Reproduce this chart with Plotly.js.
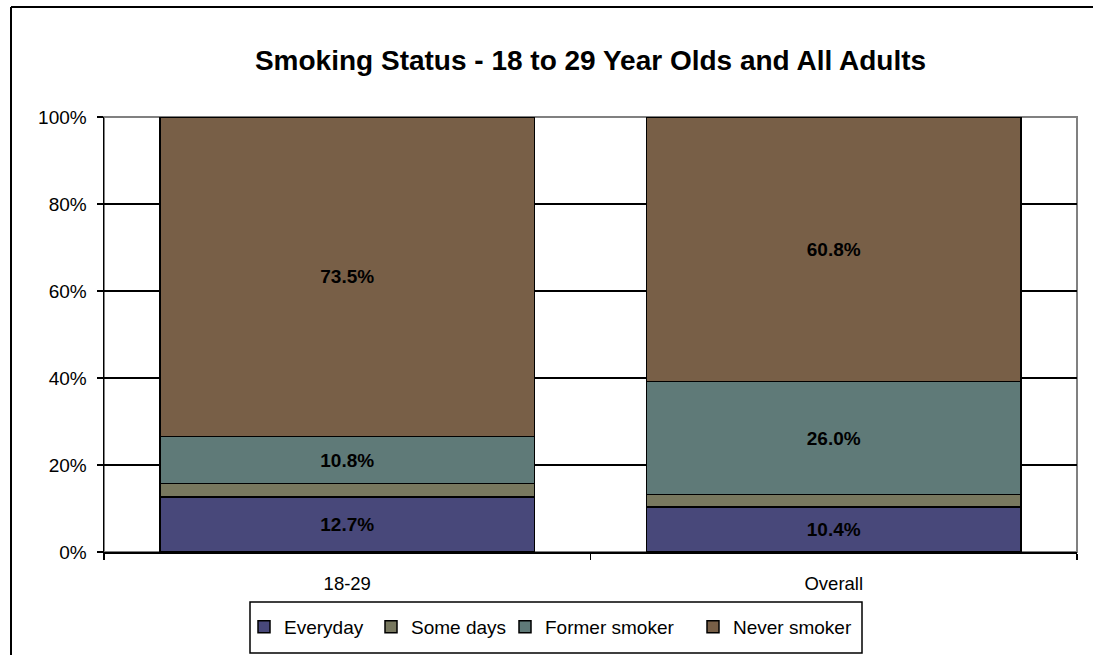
<!DOCTYPE html>
<html>
<head>
<meta charset="utf-8">
<script src="https://cdn.plot.ly/plotly-3.0.1.min.js"></script>
<style>
  html, body { margin: 0; padding: 0; background: #fff; overflow: hidden; }
  #chart { width: 1093px; height: 655px; }
</style>
</head>
<body>
<div id="chart"></div>
<script>
// Smoking status shares (percent of respondents)
const groups = ["18-29", "Overall"];
const everyday = [12.7, 10.4];
const someDays = [3.0, 2.8];
const formerSmoker = [10.8, 26.0];
const neverSmoker = [73.5, 60.8];

const seriesNames = ["Everyday", "Some days", "Former smoker", "Never smoker"];
const seriesColors = ["#48487a", "#78785f", "#5f7a78", "#785f47"];
const seriesValues = [everyday, someDays, formerSmoker, neverSmoker];
const showLabel = [true, false, true, true];

const FONT = "'Liberation Sans', Arial, sans-serif";

// plot area in pixels: left 104, right 1077, top 117, bottom 552
const PX = x => (x - 104) / 973;
const PY = y => (552 - y) / 435;

// one legend per series so the entries sit at fixed spots inside the legend box
const legendIds = ["legend", "legend2", "legend3", "legend4"];
const legendTextLeft = [282, 409, 543, 731];

const traces = seriesValues.map((vals, i) => ({
  type: "bar",
  name: seriesNames[i],
  legend: legendIds[i],
  x: groups,
  y: vals,
  marker: { color: seriesColors[i], line: { color: "#000", width: 1.5 } },
  text: showLabel[i] ? vals.map(v => v.toFixed(1) + "%") : null,
  textposition: showLabel[i] ? "inside" : "none",
  insidetextanchor: "middle",
  textangle: 0,
  textfont: { family: FONT, size: 19, color: "#000", weight: "bold" },
  hoverinfo: "none"
}));

const layout = {
  width: 1093,
  height: 655,
  paper_bgcolor: "#fff",
  plot_bgcolor: "#fff",
  margin: { l: 104, r: 16, t: 117, b: 103, autoexpand: false },
  barmode: "stack",
  bargap: 0.23,
  showlegend: true,
  font: { family: FONT, size: 18, color: "#000" },
  title: {
    text: "<b>Smoking Status - 18 to 29 Year Olds and All Adults</b>",
    font: { family: FONT, size: 28, color: "#000" },
    x: 0.5, xanchor: "center", xref: "paper",
    y: 1 - 60 / 655, yanchor: "middle", yref: "container"
  },
  xaxis: {
    type: "category",
    tickson: "boundaries",
    ticks: "outside", ticklen: 6, tickcolor: "#000", tickwidth: 1.5,
    showline: true, linecolor: "#000", linewidth: 1.5,
    showgrid: false,
    ticklabelstandoff: 14,
    tickfont: { family: FONT, size: 18.5, color: "#000" },
    fixedrange: true
  },
  yaxis: {
    range: [0, 100],
    tickvals: [0, 20, 40, 60, 80, 100],
    ticktext: ["0%", "20%", "40%", "60%", "80%", "100%"],
    ticks: "outside", ticklen: 6, tickcolor: "#000", tickwidth: 1.5,
    showline: true, linecolor: "#000", linewidth: 1.5,
    showgrid: true, gridcolor: "#000", gridwidth: 1.2,
    zeroline: false,
    ticklabelstandoff: 6,
    tickfont: { family: FONT, size: 19, color: "#000" },
    fixedrange: true
  },
  shapes: [
    // plot area frame
    { type: "rect", xref: "paper", yref: "paper", x0: 0, x1: 1, y0: 0, y1: 1,
      line: { color: "#808080", width: 2 }, layer: "between" },
    // legend box
    { type: "rect", xref: "paper", yref: "paper",
      x0: PX(250), x1: PX(862), y0: PY(653), y1: PY(602),
      line: { color: "#000", width: 1.5 }, fillcolor: "rgba(0,0,0,0)", layer: "below" },
    // outer chart frame (left and top edges)
    { type: "line", xref: "paper", yref: "paper",
      x0: PX(11), x1: PX(11), y0: PY(700), y1: PY(7),
      line: { color: "#000", width: 2 } },
    { type: "line", xref: "paper", yref: "paper",
      x0: PX(11), x1: PX(1120), y0: PY(7), y1: PY(7),
      line: { color: "#000", width: 2 } }
  ]
};

legendIds.forEach((id, i) => {
  layout[id] = {
    orientation: "h",
    x: PX(legendTextLeft[i] - 38), xanchor: "left",
    y: PY(608), yanchor: "top",
    borderwidth: 0,
    bgcolor: "rgba(0,0,0,0)",
    font: { family: FONT, size: 19, color: "#000" },
    itemwidth: 30,
    itemclick: false, itemdoubleclick: false
  };
});

Plotly.newPlot("chart", traces, layout, { displayModeBar: false, staticPlot: true });
</script>
</body>
</html>
